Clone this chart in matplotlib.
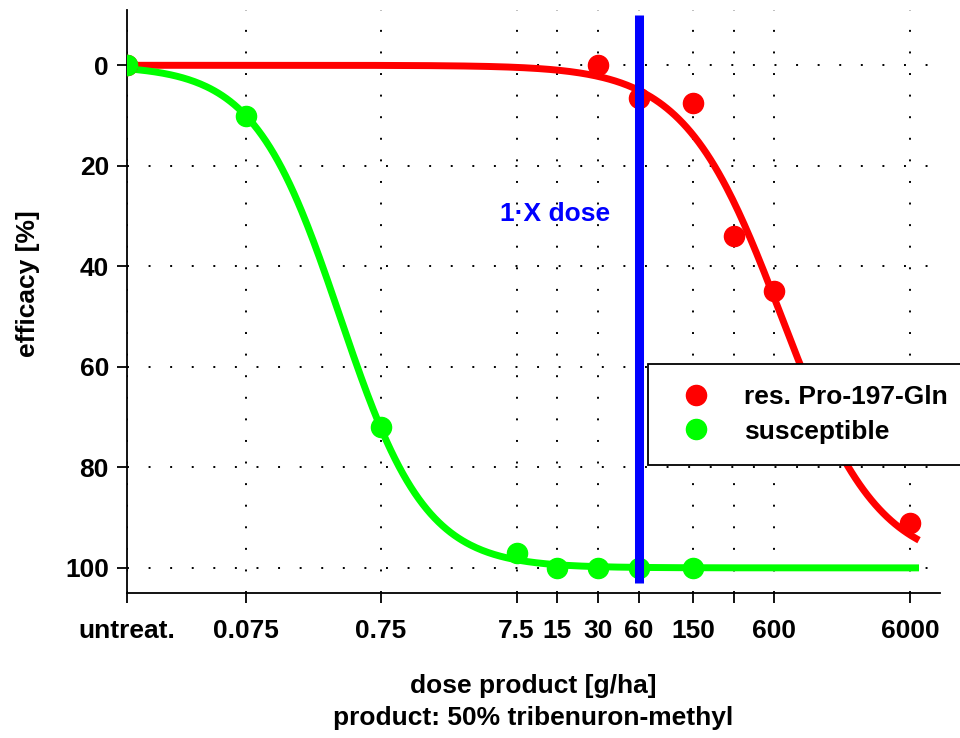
import numpy as np
import matplotlib
matplotlib.use("Agg")
import matplotlib.pyplot as plt

plt.rcParams['font.family'] = ['Liberation Sans', 'DejaVu Sans']
plt.rcParams['font.weight'] = 'bold'

# ---- data ----
tick_doses = [0.01, 0.075, 0.75, 7.5, 15, 30, 60, 150, 300, 600, 6000]
tick_labels = ["untreat.", "0.075", "0.75", "7.5", "15", "30", "60", "150", "", "600", "6000"]

res_doses = [0.01, 30, 60, 150, 300, 600, 6000]
res_eff = [0, 0, 6.5, 7.5, 34, 45, 91]

sus_doses = [0.01, 0.075, 0.75, 7.5, 15, 30, 60, 150]
sus_eff = [0, 10, 72, 97, 100, 100, 100, 100]

# fitted log-logistic parameters (ED50, slope in logit units per decade)
res_ed50, res_slope = 676.0, 2.8
sus_ed50, sus_slope = 0.373, 3.16
curve_min, curve_max = 0.01, 7000

one_x_dose = 60

FS = 19

def loglogistic(x, ed50, slope):
    return 100.0 / (1.0 + np.exp(-slope * (np.log10(x) - np.log10(ed50))))

fig = plt.figure(figsize=(9.6, 7.38), dpi=100)
ax = fig.add_axes([127/960, 1-593/738, (940-127)/960, (593-10)/738])

xs = np.logspace(np.log10(curve_min), np.log10(curve_max), 400)
ax.plot(xs, loglogistic(xs, res_ed50, res_slope), color='#ff0000', lw=5, zorder=3, solid_capstyle='butt')
ax.plot(xs, loglogistic(xs, sus_ed50, sus_slope), color='#00ff00', lw=5, zorder=3, solid_capstyle='butt')
ax.plot(res_doses, res_eff, 'o', color='#ff0000', ms=14.5, zorder=4, label='res. Pro-197-Gln')
ax.plot(sus_doses, sus_eff, 'o', color='#00ff00', ms=14.5, zorder=4, label='susceptible')

ax.plot([one_x_dose, one_x_dose], [-10, 103], color='#0000ff', lw=6.5, zorder=5, solid_capstyle='butt')
ax.text(14.5, 29.5, "1·X dose", color='#0000ff', fontsize=FS, fontweight='bold',
        ha='center', va='center', zorder=6)

ax.set_xscale('log')
ax.set_xlim(0.01, 10000)
ax.set_ylim(105, -11)
ax.set_xticks(tick_doses)
ax.set_xticklabels(tick_labels)
ax.minorticks_off()
ax.set_yticks([0, 20, 40, 60, 80, 100])

for s in ['top', 'right']:
    ax.spines[s].set_visible(False)
for s in ['left', 'bottom']:
    ax.spines[s].set_linewidth(1.3)

ax.tick_params(axis='both', direction='out', length=7, width=1.3, labelsize=FS, pad=6)
ax.tick_params(axis='x', pad=12)
for lbl in ax.get_xticklabels() + ax.get_yticklabels():
    lbl.set_fontweight('bold')

ax.grid(True, color='black', lw=1.4, linestyle=(0, (1, 10.1)), zorder=1)
ax.set_axisbelow(True)

fig.text(28/960, 1-284/738, "efficacy [%]", rotation=90, fontsize=FS, fontweight='bold',
         ha='center', va='center')
fig.text(533/960, 1-686/738, "dose product [g/ha]", fontsize=FS, fontweight='bold',
         ha='center', va='center')
fig.text(533/960, 1-718/738, "product: 50% tribenuron-methyl", fontsize=FS, fontweight='bold',
         ha='center', va='center')

leg = fig.legend(loc='upper left', bbox_to_anchor=(648/960, 1-364/738), fontsize=FS,
                 frameon=True, fancybox=False, edgecolor='black', framealpha=1,
                 borderpad=0.8, handletextpad=0.83, labelspacing=0.4, markerscale=1.0,
                 handlelength=2.0, borderaxespad=0)
leg.get_frame().set_linewidth(1.3)
leg.set_zorder(10)
for t in leg.get_texts():
    t.set_fontweight('bold')

fig.savefig("out.png", dpi=100)
